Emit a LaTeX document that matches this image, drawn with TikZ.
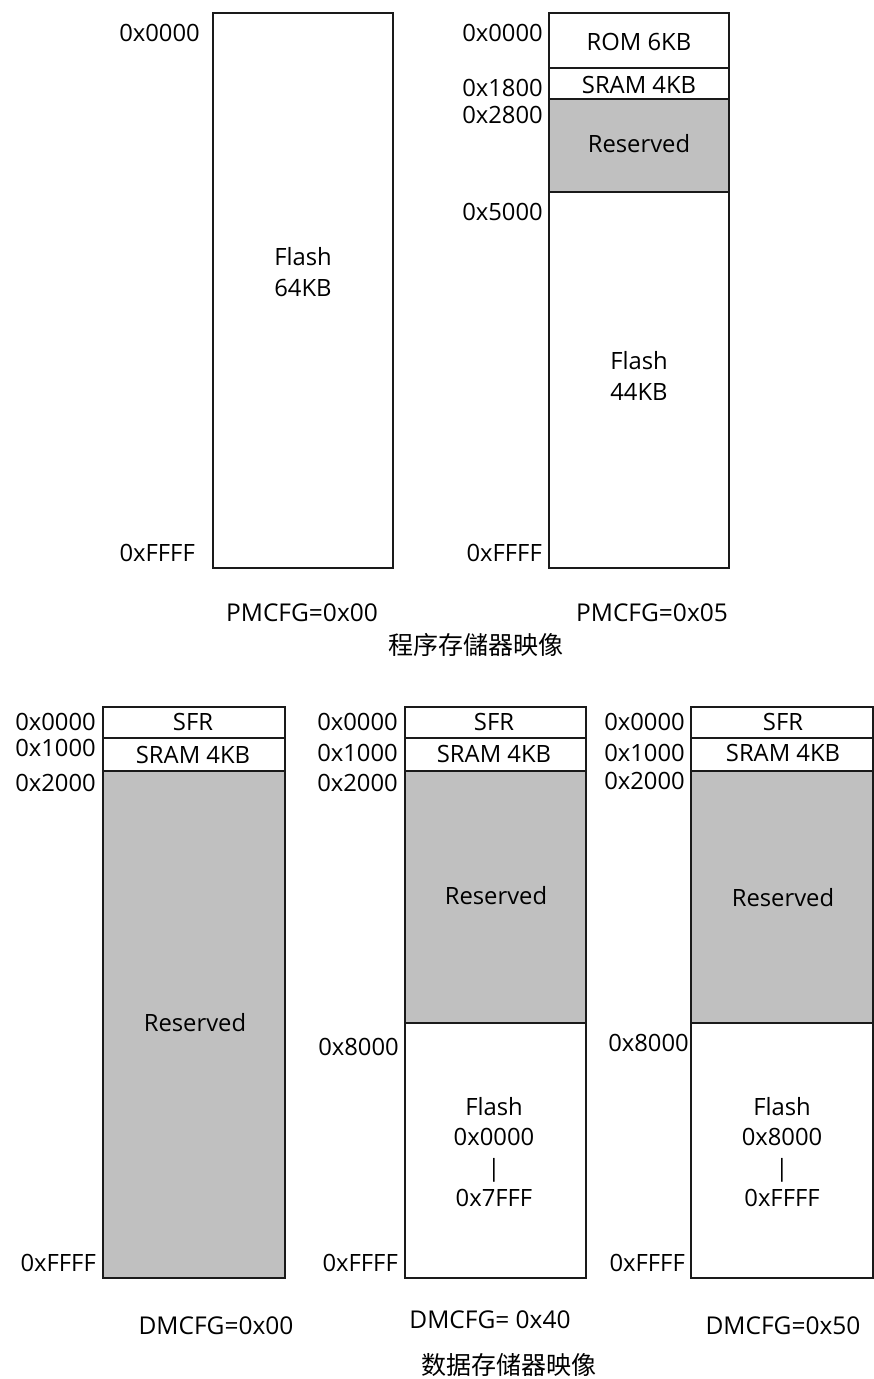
\documentclass[tikz,border=0pt]{standalone}
\usepackage{fontspec}
\setmainfont{Open Sans}
\newfontfamily\cjk{Noto Sans CJK SC}
\definecolor{resgray}{HTML}{C0C0C0}
\definecolor{edge}{HTML}{1A1A1A}
\begin{document}
\begin{tikzpicture}[x=1pt,y=-1pt,
  box/.style={draw=edge,line width=1.3pt},
  res/.style={box,fill=resgray},
  txt/.style={inner sep=0pt,font=\fontsize{23.8}{30.5}\selectfont,align=center},
  addr/.style={txt,anchor=east},
  cfg/.style={txt,font=\fontsize{24.5}{30}\selectfont},
  captxt/.style={inner sep=0pt,font=\cjk\fontsize{25}{30}\selectfont}]
\useasboundingbox[fill=white] (0,0) rectangle (874,1379);

% ---------- program memory, PMCFG=0x00
\draw[box] (213,13) rectangle (393,568);
\node[txt] (f64) at (303,272) {Flash\\64KB};
\node[addr] (a0p0) at (200,33) {0x0000};
\node[addr] (aFp0) at (195,553) {0xFFFF};
\node[cfg] (pm0) at (302,613) {PMCFG=0x00};

% ---------- program memory, PMCFG=0x05
\draw[box] (549,13) rectangle (729,68);
\draw[box] (549,68) rectangle (729,99);
\draw[res] (549,99) rectangle (729,192);
\draw[box] (549,192) rectangle (729,568);
\node[txt] (rom) at (639,42) {ROM 6KB};
\node[txt] (sr1) at (639,85) {SRAM 4KB};
\node[txt] (rs1) at (639,144) {Reserved};
\node[txt] (f44) at (639,376) {Flash\\44KB};
\node[addr] (a0p5) at (543,33) {0x0000};
\node[addr] (a18) at (543,88) {0x1800};
\node[addr] (a28) at (543,115) {0x2800};
\node[addr] (a50) at (543,212) {0x5000};
\node[addr] (aFp5) at (542,553) {0xFFFF};
\node[cfg] (pm5) at (652,613) {PMCFG=0x05};
\node[captxt] (pcap) at (476,645) {程序存儲器映像};

% ---------- data memory, DMCFG=0x00
\draw[box] (103,707) rectangle (285,738);
\draw[box] (103,738) rectangle (285,771);
\draw[res] (103,771) rectangle (285,1278);
\node[txt] (sfr1) at (193,722) {SFR};
\node[txt] (sram1) at (193,755) {SRAM 4KB};
\node[txt] (rsv1) at (195,1023) {Reserved};
\node[addr] (b0a) at (96,722) {0x0000};
\node[addr] (b1a) at (96,748) {0x1000};
\node[addr] (b2a) at (96,783) {0x2000};
\node[addr] (bFa) at (96,1263) {0xFFFF};
\node[cfg] (dm0) at (216,1326) {DMCFG=0x00};

% ---------- data memory, DMCFG=0x40
\draw[box] (405,707) rectangle (586,738);
\draw[box] (405,738) rectangle (586,771);
\draw[res] (405,771) rectangle (586,1023);
\draw[box] (405,1023) rectangle (586,1278);
\node[txt] (sfr2) at (494,722) {SFR};
\node[txt] (sram2) at (494,754) {SRAM 4KB};
\node[txt] (rsv2) at (496,896) {Reserved};
\node[txt] (fl2) at (494,1152) {Flash\\0x0000\\|\\0x7FFF};
\node[addr] (b0b) at (398,722) {0x0000};
\node[addr] (b1b) at (398,753) {0x1000};
\node[addr] (b2b) at (398,783) {0x2000};
\node[addr] (b8b) at (399,1047) {0x8000};
\node[addr] (bFb) at (398,1263) {0xFFFF};
\node[cfg] (dm4) at (490,1320) {DMCFG= 0x40};

% ---------- data memory, DMCFG=0x50
\draw[box] (691,707) rectangle (873,738);
\draw[box] (691,738) rectangle (873,771);
\draw[res] (691,771) rectangle (873,1023);
\draw[box] (691,1023) rectangle (873,1278);
\node[txt] (sfr3) at (783,722) {SFR};
\node[txt] (sram3) at (783,753) {SRAM 4KB};
\node[txt] (rsv3) at (783,898) {Reserved};
\node[txt] (fl3) at (782,1152) {Flash\\0x8000\\|\\0xFFFF};
\node[addr] (b0c) at (685,722) {0x0000};
\node[addr] (b1c) at (685,753) {0x1000};
\node[addr] (b2c) at (685,781) {0x2000};
\node[addr] (b8c) at (689,1043) {0x8000};
\node[addr] (bFc) at (685,1263) {0xFFFF};
\node[cfg] (dm5) at (783,1326) {DMCFG=0x50};
\node[captxt] (dcap) at (509,1365) {数据存储器映像};
\end{tikzpicture}
\end{document}
